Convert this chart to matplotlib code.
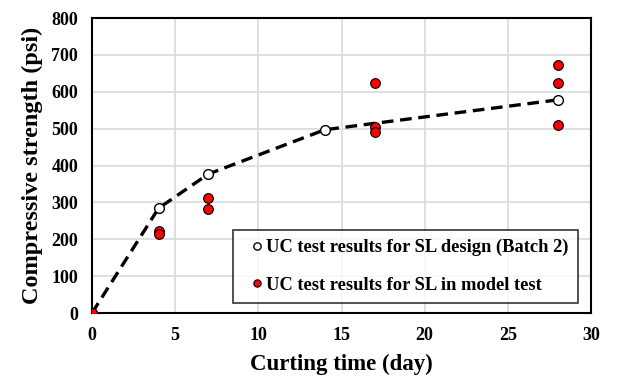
import matplotlib.pyplot as plt

plt.rcParams['font.family'] = ['Liberation Serif', 'DejaVu Serif']
plt.rcParams['font.weight'] = 'bold'

# design batch (open circles, dashed line)
design_days = [0, 4, 7, 14, 28]
design_strength = [0, 284, 377, 497, 578]

# model test samples (red dots)
model_days = [0, 4, 4, 7, 7, 17, 17, 17, 28, 28, 28]
model_strength = [0, 222, 213, 311, 282, 623, 505, 491, 673, 625, 509]

fig = plt.figure(figsize=(6.33, 3.77), dpi=100)
ax = fig.add_axes([92/633, 1 - 313/377, 499/633, 295/377])

ax.plot(design_days, design_strength, ls='--', color='black', lw=2.4,
        dashes=(3.5, 2), zorder=2)
ax.plot(design_days, design_strength, ls='none', marker='o', ms=7,
        mfc='white', mec='black', mew=1.0, zorder=3,
        label='UC test results for SL design (Batch 2)')
ax.plot(model_days, model_strength, ls='none', marker='o', ms=7,
        mfc='#ff0000', mec='black', mew=0.8, zorder=4,
        label='UC test results for SL in model test')

ax.set_xlim(0, 30)
ax.set_ylim(0, 800)
ax.set_xticks(range(0, 31, 5))
ax.set_yticks(range(0, 801, 100))
ax.grid(True, color='#d9d9d9', lw=1.2)
ax.set_axisbelow(True)
for s in ax.spines.values():
    s.set_linewidth(1.5)
ax.tick_params(length=0, labelsize=13, pad=10)
for lab in ax.get_xticklabels() + ax.get_yticklabels():
    lab.set_fontweight('bold')

ax.set_xlabel('Curting time (day)', fontsize=16.5, fontweight='bold', labelpad=7)
ax.set_ylabel('Compressive strength (psi)', fontsize=17.5, fontweight='bold',
              labelpad=6)

leg = ax.legend(loc='lower right', bbox_to_anchor=(0.985, 0.015),
                prop={'size': 13.3, 'weight': 'bold'}, frameon=True,
                fancybox=False, edgecolor='black', handlelength=1.6,
                handletextpad=-0.3, markerscale=0.75, labelspacing=1.1,
                borderpad=0.5, borderaxespad=0.3)
leg.get_frame().set_linewidth(1.2)

fig.savefig('out.png', dpi=100)
